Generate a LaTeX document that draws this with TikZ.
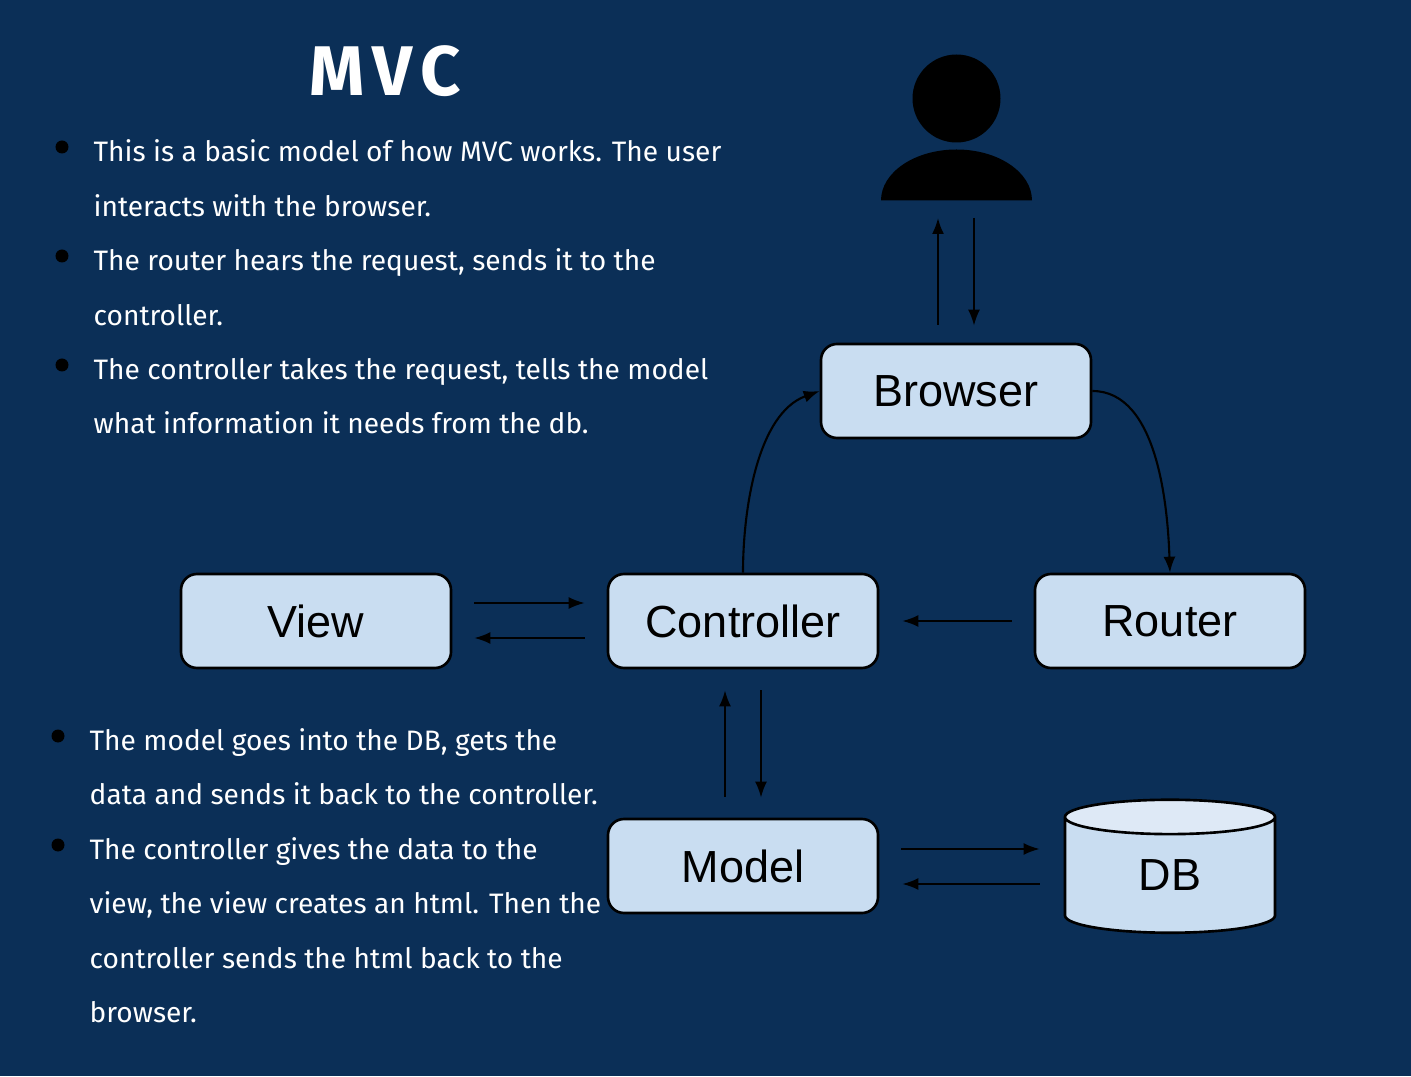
\documentclass[tikz,border=0pt]{standalone}
\usepackage{fontspec}
\setmainfont{Fira Sans}
\newfontfamily\boxfont{Liberation Sans}
\usetikzlibrary{arrows.meta,shapes.geometric}

\definecolor{pagebg}{HTML}{0B2F57}
\definecolor{boxfill}{HTML}{C9DDF1}
\definecolor{dbtop}{HTML}{DEE9F6}

\tikzset{
  box/.style={draw=black,fill=boxfill,line width=.75pt,rounded corners=.16cm,minimum width=2.7cm,minimum height=.94cm,font=\boxfont\fontsize{12.8}{14}\selectfont},
  link/.style={line width=.6pt,-{Latex[length=.16cm,width=.12cm]}},
  dot/.style={circle,fill=black,inner sep=0pt,minimum size=.13cm},
  para/.style={text=white,anchor=north west,inner sep=0pt,align=left,font=\fontsize{8}{15.5}\selectfont}
}

\begin{document}
\begin{tikzpicture}
  \useasboundingbox (0,0) rectangle (14.11,10.76);
  \fill[pagebg] (0,0) rectangle (14.11,10.76);

  \node[text=white,font=\fontsize{20}{24}\bfseries\selectfont] (title) at (3.85,10.05) {M\kern.11em V\kern.11em C};

  % left column
  \node[dot] (dot1) at (.62,9.29) {};
  \node[para] (text1) at (.93,9.37) {This is a basic model of how MVC works. The user\\interacts with the browser.};
  \node[dot] (dot2) at (.62,8.20) {};
  \node[para] (text2) at (.93,8.28) {The router hears the request, sends it to the\\controller.};
  \node[dot] (dot3) at (.62,7.11) {};
  \node[para] (text3) at (.93,7.185) {The controller takes the request, tells the model\\what information it needs from the db.};
  \node[dot] (dot4) at (.58,3.40) {};
  \node[para] (text4) at (.89,3.485) {The model goes into the DB, gets the\\data and sends it back to the controller.};
  \node[dot] (dot5) at (.58,2.31) {};
  \node[para] (text5) at (.89,2.395) {The controller gives the data to the\\view, the view creates an html. Then the\\controller sends the html back to the\\browser.};

  % boxes
  \node[box] (browser) at (9.56,6.85) {Browser};
  \node[box] (view) at (3.16,4.55) {View};
  \node[box] (controller) at (7.43,4.55) {Controller};
  \node[box] (router) at (11.70,4.55) {Router};
  \node[box] (model) at (7.43,2.10) {Model};
  \node[draw=black,line width=.75pt,cylinder,shape border rotate=90,aspect=.55,cylinder uses custom fill,cylinder body fill=boxfill,cylinder end fill=dbtop,minimum width=2.1cm,minimum height=1.33cm,inner sep=0pt,font=\boxfont\fontsize{12.8}{14}\selectfont] (db) at (11.70,2.005) {DB};

  % user
  \fill[black] (9.565,9.775) circle (.44);
  \fill[black] (8.81,8.755) arc[start angle=180,end angle=0,x radius=.755,y radius=.51] -- cycle;
  \coordinate (user) at (9.56,8.76);

  % arrows
  \draw[link] ([xshift=-.18cm,yshift=.18cm]browser.north) -- ([xshift=-.18cm,yshift=-.18cm]user);
  \draw[link] ([xshift=.18cm,yshift=-.18cm]user) -- ([xshift=.18cm,yshift=.17cm]browser.north);
  \draw[link] ([xshift=.22cm,yshift=.18cm]view.east) -- ([xshift=-.22cm,yshift=.18cm]controller.west);
  \draw[link] ([xshift=-.22cm,yshift=-.17cm]controller.west) -- ([xshift=.22cm,yshift=-.17cm]view.east);
  \draw[link] ([xshift=-.22cm]router.west) -- ([xshift=.23cm]controller.east);
  \draw[link] ([xshift=-.18cm,yshift=.21cm]model.north) -- ([xshift=-.18cm,yshift=-.21cm]controller.south);
  \draw[link] ([xshift=.18cm,yshift=-.21cm]controller.south) -- ([xshift=.18cm,yshift=.2cm]model.north);
  \draw[link] ([xshift=.22cm,yshift=.17cm]model.east) -- ([xshift=-.24cm,yshift=.17cm]model.east -| db.west);
  \draw[link] ([xshift=-.24cm,yshift=-.18cm]model.east -| db.west) -- ([xshift=.23cm,yshift=-.18cm]model.east);
  \draw[link] (controller.north) to[out=90,in=200,looseness=.85] (browser.west);
  \draw[link] (browser.east) to[out=0,in=92,looseness=.85] (router.north);
\end{tikzpicture}
\end{document}
